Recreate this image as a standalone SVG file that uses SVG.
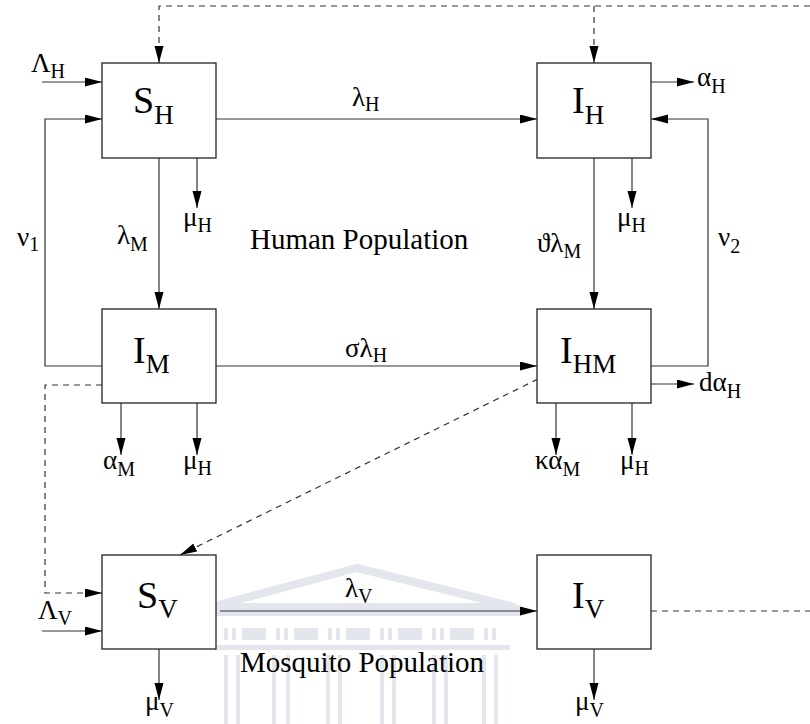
<svg xmlns="http://www.w3.org/2000/svg" width="810" height="724" viewBox="0 0 810 724">
<defs>
<marker id="ah" markerUnits="userSpaceOnUse" markerWidth="18" markerHeight="10" refX="17" refY="4.5" orient="auto">
<path d="M0,0 L17,4.5 L0,9 z" fill="#000"/>
</marker>
<style>
.box{fill:#fff;stroke:#222;stroke-width:1.3}
.ln{fill:none;stroke:#333;stroke-width:1.2}
.ar{marker-end:url(#ah)}
.da{stroke-dasharray:6 5}
text{font-family:"Liberation Serif","Times New Roman",serif;fill:#000}
.bl{font-size:38px}
.bs{font-size:27px}
.lb{font-size:27px}
.sb{font-size:20px}
.pop{font-size:29px}
.wm{fill:#e3e6ed}
</style>
</defs>
<rect width="810" height="724" fill="#fff"/>
<g id="watermark">
<polygon points="210,607 357,568 515,607" fill="none" stroke="#e3e6ed" stroke-width="8"/>
<rect class="wm" x="204" y="605" width="318" height="11"/>
<rect class="wm" x="224" y="628" width="4" height="12"/><rect class="wm" x="232" y="628" width="4" height="12"/><rect class="wm" x="242" y="628" width="24" height="12"/>
<rect class="wm" x="276" y="628" width="4" height="12"/><rect class="wm" x="284" y="628" width="4" height="12"/><rect class="wm" x="294" y="628" width="24" height="12"/>
<rect class="wm" x="328" y="628" width="4" height="12"/><rect class="wm" x="336" y="628" width="4" height="12"/><rect class="wm" x="346" y="628" width="24" height="12"/>
<rect class="wm" x="380" y="628" width="4" height="12"/><rect class="wm" x="388" y="628" width="4" height="12"/><rect class="wm" x="398" y="628" width="24" height="12"/>
<rect class="wm" x="432" y="628" width="4" height="12"/><rect class="wm" x="440" y="628" width="4" height="12"/><rect class="wm" x="450" y="628" width="24" height="12"/>
<rect class="wm" x="484" y="628" width="4" height="12"/><rect class="wm" x="492" y="628" width="4" height="12"/>
<rect class="wm" x="214" y="645" width="296" height="5"/>
<rect class="wm" x="224" y="655" width="4" height="69"/><rect class="wm" x="236" y="655" width="4" height="69"/>
<rect class="wm" x="272" y="655" width="4" height="69"/><rect class="wm" x="286" y="655" width="4" height="69"/>
<rect class="wm" x="326" y="655" width="4" height="69"/><rect class="wm" x="338" y="655" width="4" height="69"/>
<rect class="wm" x="380" y="655" width="4" height="69"/><rect class="wm" x="392" y="655" width="4" height="69"/>
<rect class="wm" x="432" y="655" width="4" height="69"/><rect class="wm" x="444" y="655" width="4" height="69"/>
<rect class="wm" x="482" y="655" width="4" height="69"/><rect class="wm" x="494" y="655" width="4" height="69"/>
</g>
<g id="connectors">
<path class="ln ar" d="M42,82 H102"/>
<path class="ln ar" d="M102,366 H45 V119 H102"/>
<path class="ln ar" d="M216,119 H537"/>
<path class="ln ar" d="M159,158 V309"/>
<path class="ln ar" d="M197,158 V208"/>
<path class="ln ar" d="M651,82 H694"/>
<path class="ln ar" d="M651,366 H708 V119 H651"/>
<path class="ln ar" d="M594,158 V309"/>
<path class="ln ar" d="M632,158 V208"/>
<path class="ln ar" d="M216,366 H537"/>
<path class="ln ar" d="M121,403 V455"/>
<path class="ln ar" d="M197,403 V455"/>
<path class="ln ar" d="M651,384 H694"/>
<path class="ln ar" d="M556,403 V455"/>
<path class="ln ar" d="M632,403 V455"/>
<path class="ln da ar" d="M810,6 H159 V63"/>
<path class="ln da ar" d="M594,6 V63"/>
<path class="ln da ar" d="M102,385 H45 V593 H102"/>
<path class="ln da ar" d="M538,379 L180,555"/>
<path class="ln ar" d="M42,631 H102"/>
<path class="ln ar" d="M159,649 V700"/>
<path class="ln ar" d="M220,611 H537"/>
<path class="ln ar" d="M594,649 V700"/>
<path class="ln da" d="M651,611 H810"/>
</g>
<g id="SH"><rect class="box" x="102" y="63" width="114" height="95"/><text class="bl" x="133" y="113">S<tspan class="bs" dy="11">H</tspan></text></g>
<g id="IH"><rect class="box" x="537" y="63" width="114" height="95"/><text class="bl" x="572" y="113">I<tspan class="bs" dy="11">H</tspan></text></g>
<g id="IM"><rect class="box" x="102" y="309" width="114" height="94"/><text class="bl" x="133" y="363">I<tspan class="bs" dy="10">M</tspan></text></g>
<g id="IHM"><rect class="box" x="537" y="309" width="114" height="94"/><text class="bl" x="560" y="363">I<tspan class="bs" dy="10">HM</tspan></text></g>
<g id="SV"><rect class="box" x="102" y="555" width="114" height="94"/><text class="bl" x="137" y="608">S<tspan class="bs" dy="10">V</tspan></text></g>
<g id="IV"><rect class="box" x="537" y="555" width="114" height="94"/><text class="bl" x="572" y="608">I<tspan class="bs" dy="10">V</tspan></text></g>
<g id="labels">
<text class="lb" x="31" y="72">Λ<tspan class="sb" dy="6">H</tspan></text>
<text class="lb" x="352" y="106">λ<tspan class="sb" dy="5">H</tspan></text>
<text class="lb" x="697" y="86">α<tspan class="sb" dy="7">H</tspan></text>
<text class="lb" x="183" y="226">μ<tspan class="sb" dy="6">H</tspan></text>
<text class="lb" x="117" y="244">λ<tspan class="sb" dy="7">M</tspan></text>
<text class="lb" x="17" y="246">ν<tspan class="sb" dy="5">1</tspan></text>
<text class="pop" x="250" y="249">Human Population</text>
<text class="lb" x="617" y="226">μ<tspan class="sb" dy="6">H</tspan></text>
<text class="lb" x="537" y="252">ϑλ<tspan class="sb" dy="6">M</tspan></text>
<text class="lb" x="718" y="246">ν<tspan class="sb" dy="7">2</tspan></text>
<text class="lb" x="345" y="357">σλ<tspan class="sb" dy="5">H</tspan></text>
<text class="lb" x="699" y="391">dα<tspan class="sb" dy="7">H</tspan></text>
<text class="lb" x="103" y="469">α<tspan class="sb" dy="7">M</tspan></text>
<text class="lb" x="183" y="469">μ<tspan class="sb" dy="6">H</tspan></text>
<text class="lb" x="535" y="469">κα<tspan class="sb" dy="7">M</tspan></text>
<text class="lb" x="620" y="469">μ<tspan class="sb" dy="6">H</tspan></text>
<text class="lb" x="345" y="597">λ<tspan class="sb" dy="6">V</tspan></text>
<text class="lb" x="38" y="619">Λ<tspan class="sb" dy="6">V</tspan></text>
<text class="pop" x="240" y="672">Mosquito Population</text>
<text class="lb" x="145" y="710">μ<tspan class="sb" dy="7">V</tspan></text>
<text class="lb" x="575" y="710">μ<tspan class="sb" dy="7">V</tspan></text>
</g>
</svg>
